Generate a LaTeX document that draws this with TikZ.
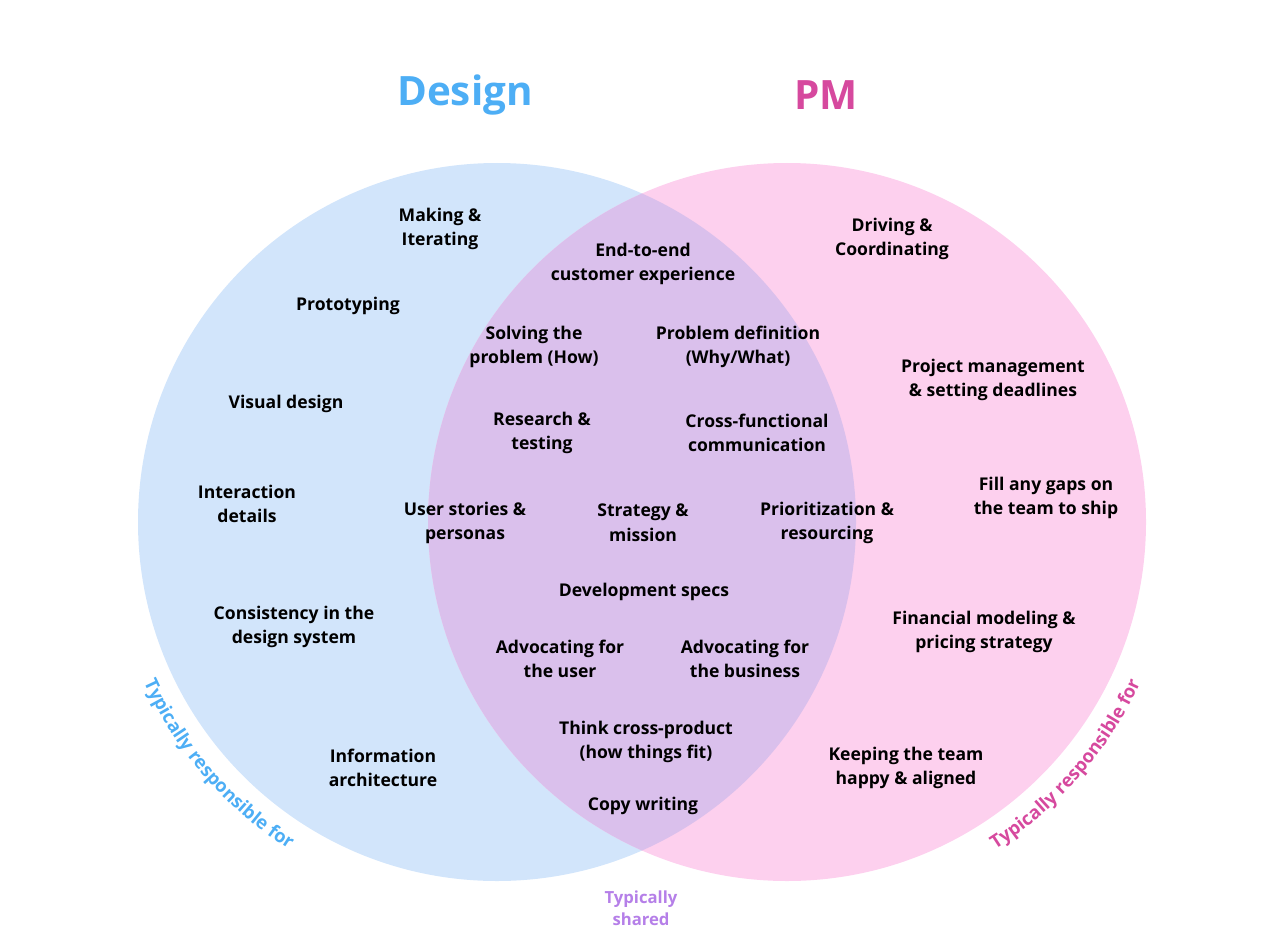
\documentclass[tikz,border=0pt]{standalone}
\usepackage{fontspec}
\setmainfont{Open Sans}
\usetikzlibrary{decorations.text}
\definecolor{designblue}{HTML}{4DAEF5}
\definecolor{pmpink}{HTML}{D6499E}
\definecolor{sharedpurple}{HTML}{B57FE8}
\definecolor{bluefill}{HTML}{D2E5FB}
\definecolor{pinkfill}{HTML}{FDD0EE}
\definecolor{mixfill}{HTML}{DAC0EC}
\begin{document}
\begin{tikzpicture}[x=0.02cm, y=0.02cm,
    item/.style={align=center, font=\fontsize{10}{14}\selectfont\bfseries},
    title/.style={font=\fontsize{23}{26}\selectfont\bfseries},
    arctext/.style={decorate, decoration={text along path, text align=center,
        text color=#1,
        text={|\fontsize{10.5}{11}\selectfont\bfseries|Typically responsible for}}}]
    \useasboundingbox (0,0) rectangle (1280,938);

    % The two circles and their overlap
    \fill[bluefill] (497,416) circle (359);
    \fill[pinkfill] (787,416) circle (359);
    \begin{scope}
        \clip (497,416) circle (359);
        \fill[mixfill] (787,416) circle (359);
    \end{scope}

    \node[title, designblue] (design) at (465,843) {Design};
    \node[title, pmpink] (pm) at (826,843) {PM};

    % Design only
    \node[item] (making) at (440,709) {Making \&\\Iterating};
    \node[item] (proto) at (348,632) {Prototyping};
    \node[item] (visual) at (286,534) {Visual design};
    \node[item] (interact) at (247,434) {Interaction\\details};
    \node[item] (consist) at (294,311) {Consistency in the\\design system};
    \node[item] (infoarch) at (383,170) {Information\\architecture};

    % Shared
    \node[item] (endtoend) at (643,674) {End-to-end\\customer experience};
    \node[item] (solving) at (534,591) {Solving the\\problem (How)};
    \node[item] (probdef) at (738,591) {Problem definition\\(Why/What)};
    \node[item] (research) at (542,505) {Research \&\\testing};
    \node[item] (crossfn) at (757,505) {Cross-functional\\communication};
    \node[item] (stories) at (465,415) {User stories \&\\personas};
    \node[item] (strategy) at (643,415) {Strategy \&\\mission};
    \node[item] (prior) at (827,415) {Prioritization \&\\resourcing};
    \node[item] (devspecs) at (644,346) {Development specs};
    \node[item] (advuser) at (560,279) {Advocating for\\the user};
    \node[item] (advbiz) at (745,279) {Advocating for\\the business};
    \node[item] (crossprod) at (646,196) {Think cross-product\\(how things fit)};
    \node[item] (copy) at (643,132) {Copy writing};

    % PM only
    \node[item] (driving) at (892,699) {Driving \&\\Coordinating};
    \node[item] (projmgmt) at (993,558) {Project management\\\& setting deadlines};
    \node[item] (gaps) at (1046,440) {Fill any gaps on\\the team to ship};
    \node[item] (finance) at (984,306) {Financial modeling \&\\pricing strategy};
    \node[item] (happy) at (906,170) {Keeping the team\\happy \& aligned};

    \node[item, sharedpurple, font=\fontsize{9.5}{12.5}\selectfont\bfseries] (shared) at (641,30) {Typically\\shared};

    % Curved captions
    \path[arctext=designblue]
        ([shift={(497,416)}]190:388) arc[start angle=190, end angle=252, radius=388];
    \path[arctext=pmpink]
        ([shift={(787,416)}]-72:388) arc[start angle=-72, end angle=-10, radius=388];
\end{tikzpicture}
\end{document}
